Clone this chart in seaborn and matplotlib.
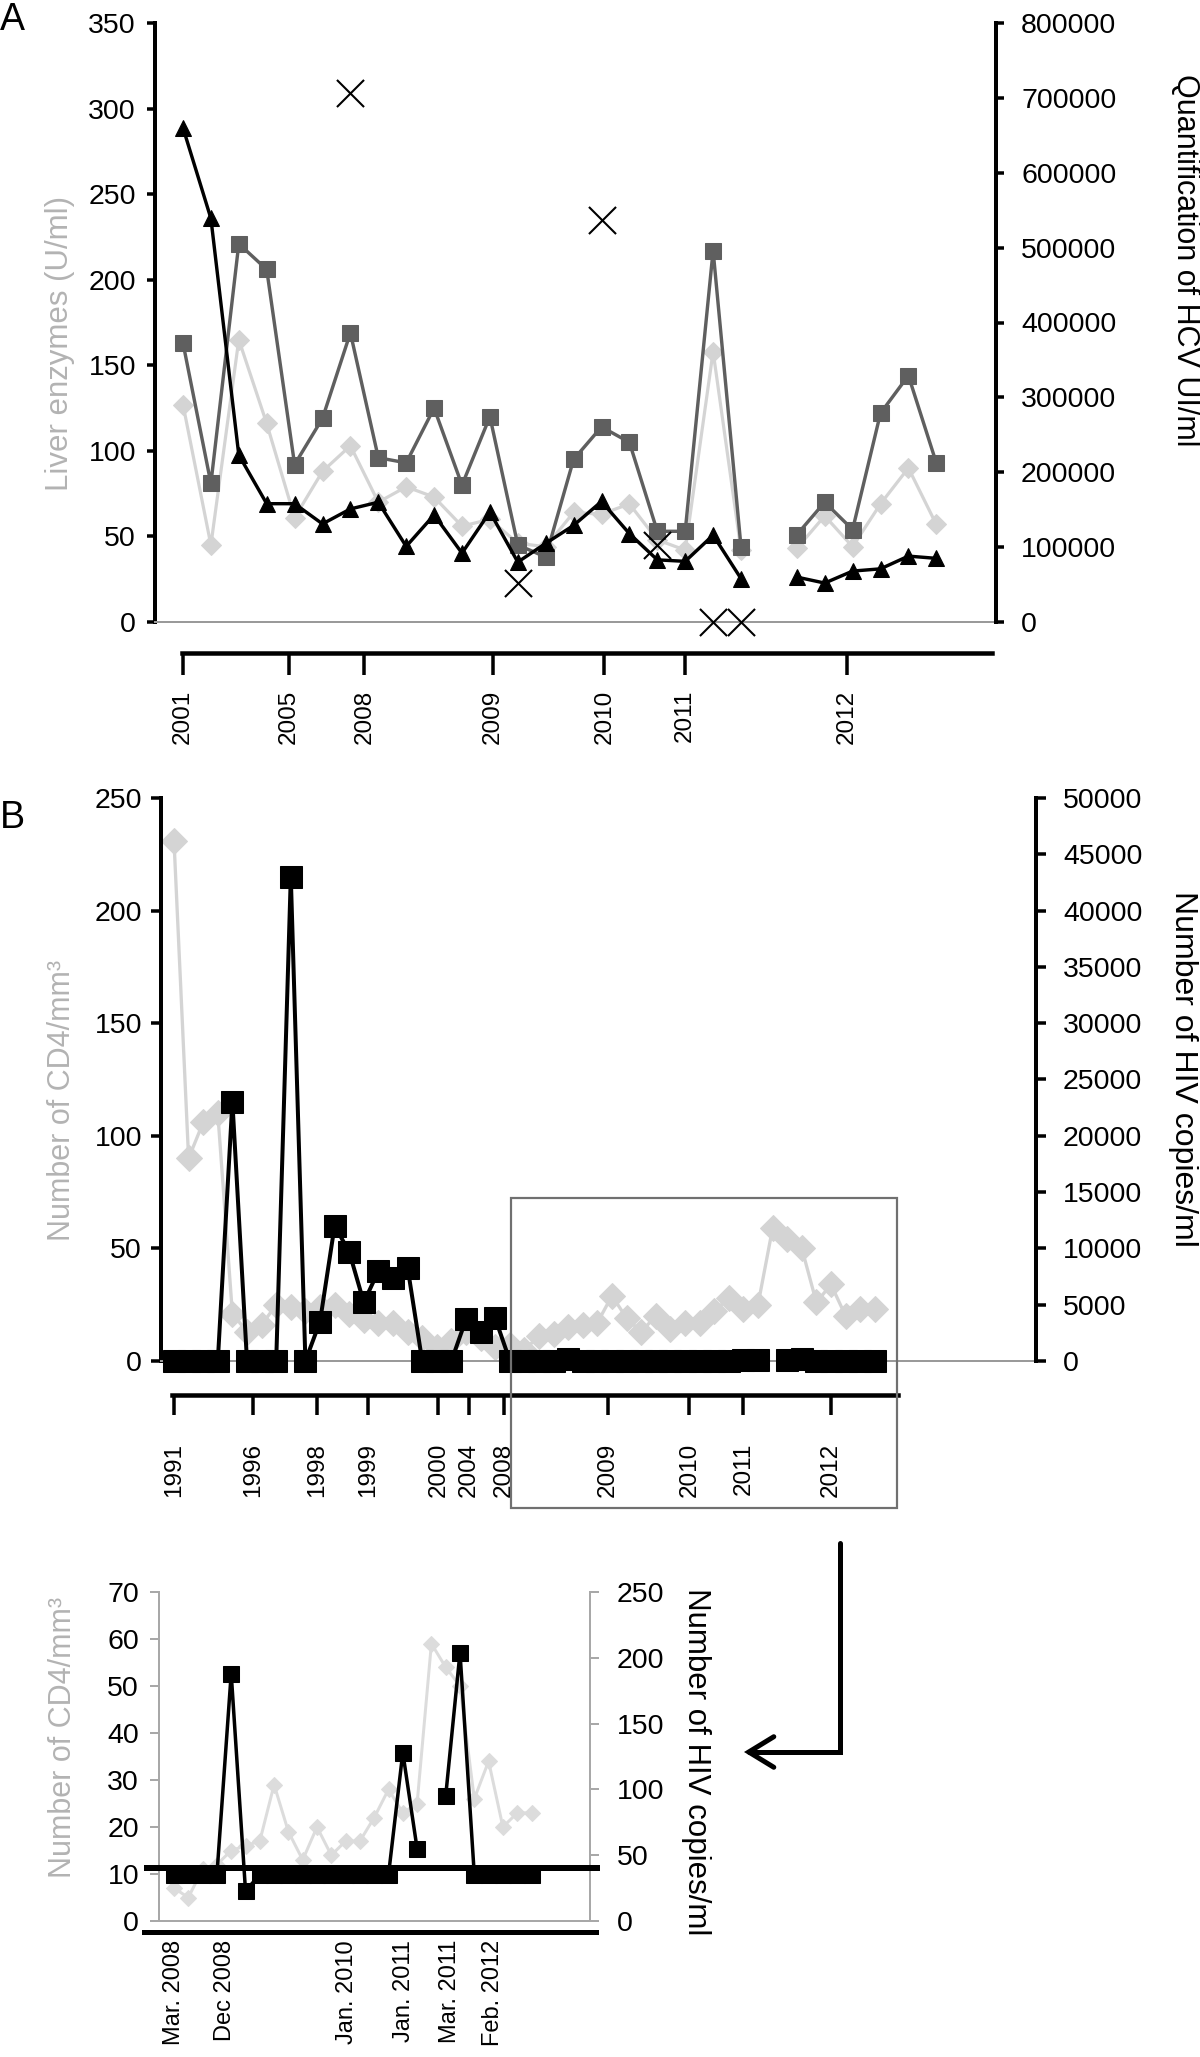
import numpy as np
import pandas as pd
import matplotlib
matplotlib.use("Agg")
import matplotlib.pyplot as plt
import seaborn as sns
from matplotlib.patches import Rectangle, FancyArrowPatch
from matplotlib.path import Path
from matplotlib.ticker import FuncFormatter

sns.set_theme(style="white")
plt.rcParams['font.family'] = ['Liberation Sans', 'DejaVu Sans']

nan = np.nan

# ---------------- Panel A data (one slot per visit, NaN = no visit) ----------------
a_enzyme_dark = [163, 81, 221, 206, 92, 119, 169, 96, 93, 125, 80, 120, 45, 38, 95,
                 114, 105, 53, 53, 217, 44, nan, 51, 70, 54, 122, 144, 93]
a_enzyme_light = [127, 45, 165, 116, 61, 88, 103, 70, 79, 73, 56, 60, 46, 44, 64,
                  63, 69, 48, 42, 158, 42, nan, 43, 62, 44, 69, 90, 57]
a_hcv = [660000, 539000, 223000, 158000, 158000, 131000, 151000, 160000, 101000,
         143000, 92000, 147000, 80000, 105000, 129000, 161000, 118000, 83000, 81000,
         116000, 58000, nan, 60000, 52000, 68000, 71000, 88000, 85000]
a_cross_idx = [6, 12, 15, 17, 19, 20]
a_cross_val = [309, 23, 235, 45, 0, 0]
a_year_labels = ['2001', '2005', '2008', '2009', '2010', '2011', '2012']
a_year_pos = [0, 3.8, 6.5, 11.1, 15.1, 18.0, 23.8]
a_left_ticks = list(range(0, 351, 50))
a_right_ticks = list(range(0, 800001, 100000))

# ---------------- Panel B data ----------------
b_cd4_early = [231, 90, 106, 110, 21, 13, 16, 25, 24, 22, 24, 25, 21, 18, 17, 17,
               13, 10, 6, 9, 13, 10, 6]
b_hiv_early = [0, 0, 0, 0, 23000, 0, 0, 0, 43000, 0, 3500, 12000, 9700, 5200, 8000,
               7400, 8300, 0, 0, 0, 3700, 2600, 3800]
recent_cd4 = [7, 5, 11, 12, 15, 16, 17, 29, 19, 13, 20, 14, 17, 17, 22, 28, 23, 25,
              59, 54, 50, 26, 34, 20, 23, 23]
recent_hiv = [35, 35, 35, 35, 188, 23, 35, 35, 35, 35, 35, 35, 35, 35, 35, 35, 128,
              55, nan, 95, 204, 35, 35, 35, 35, 35]
b_year_labels = ['1991', '1996', '1998', '1999', '2000', '2004', '2008', '2009',
                 '2010', '2011', '2012']
b_year_pos = [0, 5.4, 9.8, 13.3, 18.1, 20.2, 22.6, 29.7, 35.3, 39.0, 45.0]
b_left_ticks = list(range(0, 251, 50))
b_right_ticks = list(range(0, 50001, 5000))

inset_date_labels = ['Mar. 2008', 'Dec 2008', 'Jan. 2010', 'Jan. 2011', 'Mar. 2011',
                     'Feb. 2012']
inset_date_pos = [0, 3.6, 12.1, 16.1, 19.3, 22.3]
inset_left_ticks = list(range(0, 71, 10))
inset_right_ticks = list(range(0, 251, 50))
detection_limit = 40

# ---------------- figure helpers ----------------
W, H = 1200, 2057
fig = plt.figure(figsize=(W / 100, H / 100), dpi=100)


def px_ax(l, t, r, b):
    return fig.add_axes([l / W, 1 - b / H, (r - l) / W, (b - t) / H])


def pt(px):
    return px * 72 / 100


def seg_plot(ax, y, **kw):
    df = pd.DataFrame({'x': np.arange(len(y), dtype=float), 'y': np.asarray(y, dtype=float)})
    df['seg'] = df['y'].isna().cumsum()
    df = df.dropna()
    for _, g in df.groupby('seg'):
        sns.lineplot(data=g, x='x', y='y', ax=ax, estimator=None, sort=False,
                     legend=False, clip_on=False, **kw)
    ax.set_xlabel('')
    ax.set_ylabel('')


def style_pair(ax, ax2, spine_col, spine_w, tick_len, tick_w, lpad, rpad, lsize):
    for s in ['top', 'right']:
        ax.spines[s].set_visible(False)
    for s in ['top', 'left', 'bottom']:
        ax2.spines[s].set_visible(False)
    ax.spines['left'].set_color(spine_col)
    ax.spines['left'].set_linewidth(pt(spine_w))
    ax2.spines['right'].set_color(spine_col)
    ax2.spines['right'].set_linewidth(pt(spine_w))
    ax.set_xticks([])
    ax.tick_params(axis='y', left=True, right=False, direction='out', length=pt(tick_len),
                   width=pt(tick_w), pad=pt(lpad), labelsize=lsize, color=spine_col,
                   labelcolor='black')
    ax2.tick_params(axis='y', right=True, left=False, direction='out', length=pt(tick_len),
                    width=pt(tick_w), pad=pt(rpad), labelsize=lsize, color=spine_col,
                    labelcolor='black')
    ax2.yaxis.set_major_formatter(FuncFormatter(lambda v, p: f"{int(round(v))}"))


def timeline(l, r, y, f, pos, labels, lw, tick_len, tick_w, pad, size):
    t = px_ax(l, y - 10, r, y)
    t.set_xlim(f(l), f(r))
    t.set_ylim(0, 1)
    t.patch.set_visible(False)
    for s in ['top', 'left', 'right']:
        t.spines[s].set_visible(False)
    t.spines['bottom'].set_color('black')
    t.spines['bottom'].set_linewidth(pt(lw))
    t.set_yticks([])
    t.set_xticks(pos)
    t.set_xticklabels(labels, rotation=90)
    t.tick_params(axis='x', bottom=True, direction='out', length=pt(tick_len),
                  width=pt(tick_w), pad=pt(pad), labelsize=size, color='black',
                  labelcolor='black')
    return t


LIGHT = '#d4d4d4'
DARK = '#5f5f5f'
LABEL_GREY = '#b3b3b3'

# ================= Panel A =================
fA = lambda px: (px - 183) / 27.9
axA = px_ax(155, 23, 996, 622)
axA2 = axA.twinx()
seg_plot(axA, a_enzyme_light, color=LIGHT, marker='D', markersize=10,
         markeredgecolor=LIGHT, linewidth=pt(3.2), zorder=2)
seg_plot(axA, a_enzyme_dark, color=DARK, marker='s', markersize=11.5,
         markeredgecolor=DARK, linewidth=pt(3.4), zorder=3)
sns.scatterplot(x=a_cross_idx, y=a_cross_val, ax=axA, marker='x', s=19.5 ** 2,
                color='black', linewidth=1.5, zorder=5, clip_on=False, legend=False)
seg_plot(axA2, a_hcv, color='black', marker='^', markersize=12,
         markeredgecolor='black', linewidth=pt(3.4))
axA.set_xlim(fA(155), fA(996))
axA.set_ylim(0, 350)
axA2.set_ylim(0, 800000)
axA.set_yticks(a_left_ticks)
axA2.set_yticks(a_right_ticks)
style_pair(axA, axA2, 'black', 4, 8, 3.5, 11, 17, 20.5)
axA.spines['bottom'].set_color('#9a9a9a')
axA.spines['bottom'].set_linewidth(pt(2))

timeline(182, 992, 653, fA, a_year_pos, a_year_labels, 4.5, 22, 3.5, 15, 17.5)

fig.text(60 / W, 1 - 343 / H, 'Liver enzymes (U/ml)', rotation=90, ha='center',
         va='center', fontsize=22.5, color=LABEL_GREY)
fig.text(1185 / W, 1 - 260 / H, 'Quantification of HCV UI/ml', rotation=-90,
         ha='center', va='center', fontsize=22, color='black')
fig.text(0, 1 - 2 / H, 'A', ha='left', va='top', fontsize=27, color='black')

# ================= Panel B =================
fB = lambda px: (px - 174) / 14.6
axB = px_ax(161, 798, 1036, 1361)
axB2 = axB.twinx()
seg_plot(axB, b_cd4_early + recent_cd4, color=LIGHT, marker='D', markersize=13,
         markeredgecolor=LIGHT, linewidth=pt(3.3), zorder=2)
seg_plot(axB2, b_hiv_early + recent_hiv, color='black', marker='s', markersize=16,
         markeredgecolor='black', linewidth=pt(4))
axB.set_xlim(fB(161), fB(1036))
axB.set_ylim(0, 250)
axB2.set_ylim(0, 50000)
axB.set_yticks(b_left_ticks)
axB2.set_yticks(b_right_ticks)
style_pair(axB, axB2, 'black', 4, 10, 3.5, 9, 17, 20.5)
axB.spines['bottom'].set_color('#9a9a9a')
axB.spines['bottom'].set_linewidth(pt(2))

timeline(172, 898, 1395, fB, b_year_pos, b_year_labels, 4.5, 20, 3.5, 28, 17.5)

fig.text(62 / W, 1 - 1100 / H, 'Number of CD4/mm³', rotation=90, ha='center',
         va='center', fontsize=22, color=LABEL_GREY)
fig.text(1183 / W, 1 - 1069 / H, 'Number of HIV copies/ml', rotation=-90,
         ha='center', va='center', fontsize=23, color='black')
fig.text(0, 1 - 800 / H, 'B', ha='left', va='top', fontsize=27, color='black')

# zoom box and arrow
fig.add_artist(Rectangle((511 / W, 1 - 1508 / H), (897 - 511) / W, (1508 - 1198) / H,
                         transform=fig.transFigure, fill=False, edgecolor='#707070',
                         linewidth=pt(2.2), zorder=10))
arrow_path = Path([(840 / W, 1 - 1543 / H), (840 / W, 1 - 1752 / H), (744 / W, 1 - 1752 / H)],
                  [Path.MOVETO, Path.LINETO, Path.LINETO])
fig.add_artist(FancyArrowPatch(path=arrow_path, arrowstyle='->,head_length=0.9,head_width=0.55',
                               mutation_scale=20, linewidth=pt(5), color='black',
                               joinstyle='miter', transform=fig.transFigure))

# ================= Inset =================
fI = lambda px: (px - 174) / 14.3
axI = px_ax(159, 1592, 590, 1921)
axI2 = axI.twinx()
seg_plot(axI, recent_cd4, color='#dcdcdc', marker='D', markersize=8,
         markeredgecolor='#dcdcdc', linewidth=pt(3), zorder=2)
seg_plot(axI2, recent_hiv, color='black', marker='s', markersize=11.5,
         markeredgecolor='black', linewidth=pt(3.5))
axI2.hlines(detection_limit, fI(144), fI(600), color='black', linewidth=pt(6),
            clip_on=False, zorder=6)
axI.set_xlim(fI(159), fI(590))
axI.set_ylim(0, 70)
axI2.set_ylim(0, 250)
axI.set_yticks(inset_left_ticks)
axI2.set_yticks(inset_right_ticks)
style_pair(axI, axI2, '#a8a8a8', 2, 9, 2, 11, 18, 20.5)
axI.spines['bottom'].set_color('#a8a8a8')
axI.spines['bottom'].set_linewidth(pt(2))

timeline(144, 596, 1932, fI, inset_date_pos, inset_date_labels, 5, 0, 0, 8, 17)

fig.text(63 / W, 1 - 1737 / H, 'Number of CD4/mm³', rotation=90, ha='center',
         va='center', fontsize=22, color=LABEL_GREY)
fig.text(696 / W, 1 - 1762 / H, 'Number of HIV copies/ml', rotation=-90,
         ha='center', va='center', fontsize=22.5, color='black')

fig.savefig('out.png', dpi=100, facecolor='white')
